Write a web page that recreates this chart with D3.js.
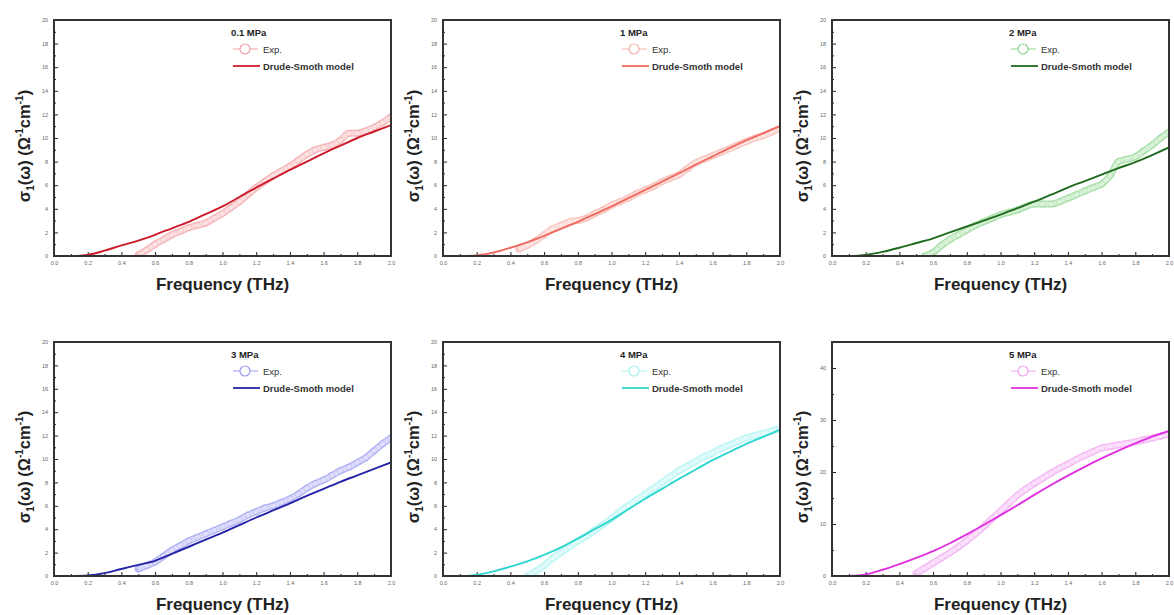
<!DOCTYPE html>
<html>
<head>
<meta charset="utf-8">
<script src="https://cdn.jsdelivr.net/npm/d3@7"></script>
<style>
  body { margin: 0; background: #fff; }
  svg { font-family: "Liberation Sans", Arial, sans-serif; }
  .tick text { fill: #666; font-size: 5.5px; }
  .domain { display: none; }
  .tick line { stroke: #222; }
</style>
</head>
<body>
<svg width="1174" height="615"></svg>
<script>
// conductivity sigma_1 vs frequency, six pressures

var pressures = ["0.1 MPa", "1 MPa", "2 MPa", "3 MPa", "4 MPa", "5 MPa"];
var expColors = ["#f2a0a2", "#f7b2aa", "#8fd68f", "#9a9af2", "#a6f2f2", "#f2a2f2"];
var modelColors = ["#cc1c2a", "#f06a60", "#1f6a1f", "#2424a6", "#2fd6d0", "#e030e0"];
var yMax = [20, 20, 20, 20, 20, 45];

var expFreq = [0.45, 0.50, 0.55, 0.60, 0.65, 0.70, 0.75, 0.80, 0.85, 0.90, 0.95,
  1.00, 1.05, 1.10, 1.15, 1.20, 1.25, 1.30, 1.35, 1.40, 1.45,
  1.50, 1.55, 1.60, 1.65, 1.70, 1.75, 1.80, 1.85, 1.90, 1.95, 2.00];

var exp01 = [null, 0.1, 0.5, 1.0, 1.4, 1.8, 2.1, 2.4, 2.6, 2.8, 3.2,
  3.6, 4.1, 4.6, 5.2, 5.8, 6.3, 6.8, 7.2, 7.6, 8.1,
  8.6, 9.0, 9.2, 9.4, 9.8, 10.4, 10.4, 10.6, 10.9, 11.3, 11.8];
var exp1 = [0.6, 0.9, 1.3, 1.8, 2.3, 2.6, 2.9, 3.0, 3.2, 3.6, 3.9,
  4.3, 4.6, 4.9, 5.3, 5.6, 5.9, 6.3, 6.6, 6.9, 7.4,
  7.9, 8.2, 8.5, 8.8, 9.1, 9.4, 9.7, 10.0, 10.2, 10.5, 10.8];
var exp2 = [null, null, 0.0, 0.3, 0.9, 1.4, 1.8, 2.2, 2.6, 2.9, 3.2,
  3.5, 3.7, 3.9, 4.2, 4.4, 4.4, 4.4, 4.6, 4.9, 5.2,
  5.5, 5.8, 6.1, 6.8, 8.0, 8.2, 8.4, 8.9, 9.4, 10.0, 10.5];
var exp3 = [null, 0.6, 0.9, 1.2, 1.7, 2.2, 2.6, 3.0, 3.3, 3.6, 3.9,
  4.2, 4.5, 4.8, 5.2, 5.5, 5.8, 6.0, 6.3, 6.6, 7.0,
  7.5, 7.9, 8.2, 8.6, 9.0, 9.3, 9.7, 10.1, 10.7, 11.3, 11.8];
var exp4 = [null, 0.0, 0.4, 0.9, 1.5, 2.0, 2.5, 3.0, 3.4, 3.9, 4.4,
  4.9, 5.5, 6.0, 6.5, 7.0, 7.5, 8.0, 8.5, 9.0, 9.4,
  9.8, 10.2, 10.5, 10.9, 11.2, 11.5, 11.8, 12.0, 12.2, 12.4, 12.6];
var exp5 = [null, 0.5, 1.5, 2.5, 3.5, 4.5, 5.6, 6.8, 8.1, 9.5, 11.0,
  12.5, 14.0, 15.5, 16.7, 17.8, 18.8, 19.8, 20.7, 21.5, 22.4,
  23.2, 23.9, 24.6, 24.9, 25.2, 25.5, 25.8, 26.2, 26.5, 26.9, 27.3];

var modelFreq = [0.1, 0.2, 0.3, 0.4, 0.5, 0.6, 0.7, 0.8, 0.9, 1.0,
  1.1, 1.2, 1.3, 1.4, 1.5, 1.6, 1.7, 1.8, 1.9, 2.0];

var model01 = [0.0, 0.1, 0.45, 0.9, 1.3, 1.8, 2.35, 2.9, 3.55, 4.2,
  5.0, 5.8, 6.55, 7.3, 8.0, 8.7, 9.35, 10.0, 10.55, 11.1];
var model1 = [0.0, 0.05, 0.3, 0.7, 1.15, 1.7, 2.3, 2.9, 3.55, 4.2,
  4.9, 5.6, 6.3, 7.0, 7.75, 8.45, 9.15, 9.8, 10.4, 11.0];
var model2 = [0.0, 0.1, 0.35, 0.7, 1.1, 1.5, 2.0, 2.5, 3.0, 3.5,
  4.05, 4.6, 5.2, 5.8, 6.35, 6.9, 7.45, 7.95, 8.55, 9.2];
var model3 = [0.0, 0.05, 0.25, 0.6, 0.95, 1.3, 1.9, 2.5, 3.1, 3.7,
  4.35, 5.0, 5.6, 6.2, 6.85, 7.45, 8.05, 8.6, 9.15, 9.7];
var model4 = [0.0, 0.1, 0.4, 0.8, 1.25, 1.8, 2.45, 3.2, 4.0, 4.8,
  5.7, 6.6, 7.45, 8.3, 9.1, 9.9, 10.6, 11.3, 11.9, 12.5];
var model5 = [0.0, 0.3, 1.2, 2.3, 3.5, 4.8, 6.3, 8.0, 9.8, 11.7,
  13.6, 15.6, 17.5, 19.3, 21.0, 22.6, 24.1, 25.5, 26.8, 27.9];

var expSeries = [exp01, exp1, exp2, exp3, exp4, exp5];
var modelSeries = [model01, model1, model2, model3, model4, model5];

var svg = d3.select("svg");

var colLeft = [54, 443, 832],
    rowTop = [20, 342],
    plotW = 337,
    plotH = [236, 234];

function drawPanel(i) {
  var col = i % 3, row = Math.floor(i / 3);
  var w = plotW, h = plotH[row];
  var g = svg.append("g")
      .attr("transform", "translate(" + colLeft[col] + "," + rowTop[row] + ")");

  var x = d3.scaleLinear().domain([0, 2]).range([0, w]);
  var y = d3.scaleLinear().domain([0, yMax[i]]).range([h, 0]);

  g.append("clipPath").attr("id", "clip" + i)
    .append("rect").attr("width", w).attr("height", h);

  // axes, ticks pointing in
  var xMajor = [0, 0.2, 0.4, 0.6, 0.8, 1.0, 1.2, 1.4, 1.6, 1.8, 2.0];
  var xMinor = [0.1, 0.3, 0.5, 0.7, 0.9, 1.1, 1.3, 1.5, 1.7, 1.9];
  g.append("g").attr("transform", "translate(0," + h + ")")
    .call(d3.axisBottom(x).tickValues(xMajor).tickSize(-4).tickPadding(5).tickFormat(d3.format(".1f")));
  g.append("g").attr("transform", "translate(0," + h + ")")
    .call(d3.axisBottom(x).tickValues(xMinor).tickSize(-2).tickFormat(""));

  var yStep = yMax[i] > 20 ? 10 : 2;
  var yMaj = d3.range(0, yMax[i] + 0.01, yStep);
  var yMin = d3.range(yStep / 2, yMax[i] + 0.01, yStep);
  g.append("g")
    .call(d3.axisLeft(y).tickValues(yMaj).tickSize(-4).tickPadding(6).tickFormat(d3.format("d")));
  g.append("g")
    .call(d3.axisLeft(y).tickValues(yMin).tickSize(-2).tickFormat(""));

  var plot = g.append("g").attr("clip-path", "url(#clip" + i + ")");

  var expData = expFreq.map(function(f, k) { return {f: f, v: expSeries[i][k]}; })
      .filter(function(d) { return d.v !== null; });
  var modelData = modelFreq.map(function(f, k) { return {f: f, v: modelSeries[i][k]}; });

  var line = d3.line()
      .x(function(d) { return x(d.f); })
      .y(function(d) { return y(d.v); })
      .curve(d3.curveMonotoneX);

  // experimental points: dense open circles -> pale band
  plot.append("path").datum(expData)
      .attr("d", line).attr("fill", "none")
      .attr("stroke", expColors[i]).attr("stroke-width", 7)
      .attr("stroke-linecap", "round").attr("opacity", 0.7);
  plot.append("path").datum(expData)
      .attr("d", line).attr("fill", "none")
      .attr("stroke", "#fff").attr("stroke-width", 4)
      .attr("opacity", 0.55);
  plot.selectAll("circle.exp").data(expData)
    .enter().append("circle")
      .attr("class", "exp")
      .attr("cx", function(d) { return x(d.f); })
      .attr("cy", function(d) { return y(d.v); })
      .attr("r", 3.2)
      .attr("fill", "none")
      .attr("stroke", expColors[i])
      .attr("stroke-width", 0.7)
      .attr("opacity", 0.5);

  plot.append("path").datum(modelData)
      .attr("d", line).attr("fill", "none")
      .attr("stroke", modelColors[i]).attr("stroke-width", 1.9);

  // frame
  g.append("rect").attr("width", w).attr("height", h)
      .attr("fill", "none").attr("stroke", "#333").attr("stroke-width", 2);

  // legend
  var lg = g.append("g").attr("transform", "translate(177,16)")
      .style("font-size", "9.5px").style("font-weight", "bold").attr("fill", "#222");
  lg.append("text").attr("x", 0).attr("y", 0).text(pressures[i]);
  lg.append("line").attr("x1", 2).attr("x2", 27).attr("y1", 13).attr("y2", 13)
      .attr("stroke", expColors[i]).attr("stroke-width", 1);
  lg.append("circle").attr("cx", 14).attr("cy", 13).attr("r", 5)
      .attr("fill", "#fff").attr("stroke", expColors[i]).attr("stroke-width", 1.2);
  lg.append("text").attr("x", 32).attr("y", 16.5).attr("fill", "#333").style("font-weight", "normal").text("Exp.");
  lg.append("line").attr("x1", 2).attr("x2", 29).attr("y1", 30).attr("y2", 30)
      .attr("stroke", modelColors[i]).attr("stroke-width", 1.8);
  lg.append("text").attr("x", 32).attr("y", 33.5).attr("fill", "#333").text("Drude-Smoth model");

  // axis titles
  g.append("text")
      .attr("x", w / 2).attr("y", h + 34)
      .attr("text-anchor", "middle")
      .style("font-size", "17px").style("font-weight", "bold").attr("fill", "#222")
      .text("Frequency (THz)");

  var yt = g.append("text")
      .attr("transform", "translate(-24," + (h / 2 + 8) + ") rotate(-90)")
      .attr("text-anchor", "middle")
      .style("font-size", "16.5px").style("font-weight", "bold").attr("fill", "#222");
  yt.append("tspan").text("\u03c3");
  yt.append("tspan").attr("dy", 4).style("font-size", "10px").text("1");
  yt.append("tspan").attr("dy", -4).text("(\u03c9) (\u03a9");
  yt.append("tspan").attr("dy", -7).style("font-size", "10px").text("-1");
  yt.append("tspan").attr("dy", 7).text("cm");
  yt.append("tspan").attr("dy", -7).style("font-size", "10px").text("-1");
  yt.append("tspan").attr("dy", 7).text(")");
}

for (var i = 0; i < 6; i++) drawPanel(i);
</script>
</body>
</html>
